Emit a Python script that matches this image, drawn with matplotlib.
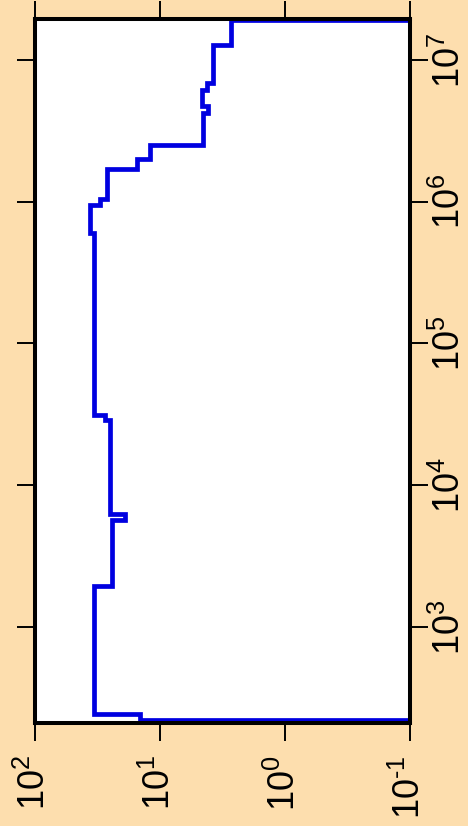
import numpy as np
import matplotlib
matplotlib.use('Agg')
import matplotlib.pyplot as plt
from matplotlib.ticker import FixedLocator, NullLocator

# step curve: frequency edges (vertical axis) and value in each band (horizontal axis)
freq_edges = [150, 221, 245, 1950, 5700, 6300, 29000, 31500, 600000, 950000,
              1.05e6, 1.7e6, 2.0e6, 2.5e6, 4.2e6, 4.7e6, 6.1e6, 6.9e6, 1.27e7, 1.91e7, 3e7]
values = [0.01, 14.5, 33.5, 24.0, 19.1, 25.0, 27.5, 33.5, 36.0, 30.0,
          26.5, 15.3, 12.0, 4.5, 4.13, 4.6, 4.2, 3.8, 2.7, 0.01]

x_ticks = [100, 10, 1, 0.1]
x_labels = ['$10^{2}$', '$10^{1}$', '$10^{0}$', '$10^{\u20101}$']
y_ticks = [1e3, 1e4, 1e5, 1e6, 1e7]
y_labels = ['$10^{3}$', '$10^{4}$', '$10^{5}$', '$10^{6}$', '$10^{7}$']

plt.rcParams['font.family'] = ['Liberation Sans', 'DejaVu Sans']
plt.rcParams['mathtext.fontset'] = 'custom'
plt.rcParams['mathtext.rm'] = 'Liberation Sans'
plt.rcParams['mathtext.it'] = 'Liberation Sans'

bg = '#fddeae'
fig = plt.figure(figsize=(4.68, 8.26), dpi=100, facecolor=bg)
ax = fig.add_axes([35/468, 103/826, 375/468, 704/826])
ax.set_facecolor('white')

ax.stairs(values, freq_edges, orientation='horizontal', baseline=None,
          color='#0000e0', linewidth=3.4, zorder=3)

ax.set_xscale('log')
ax.set_yscale('log')
ax.set_xlim(100, 0.1)
ax.set_ylim(210, 1.946e7)

ax.xaxis.set_major_locator(FixedLocator(x_ticks))
ax.xaxis.set_minor_locator(NullLocator())
ax.yaxis.set_major_locator(FixedLocator(y_ticks))
ax.yaxis.set_minor_locator(NullLocator())
ax.set_xticklabels(x_labels)
ax.set_yticklabels(y_labels)

ax.tick_params(axis='both', which='major', direction='out', length=13, width=1.4,
               top=True, bottom=True, left=True, right=True,
               labelleft=False, labelright=True, labeltop=False, labelbottom=True,
               labelsize=26)
ax.tick_params(axis='x', pad=10)
ax.tick_params(axis='y', pad=3)
for lab in ax.get_xticklabels():
    lab.set_rotation(90)
    lab.set_va('top')
    lab.set_ha('center')
for lab in ax.get_yticklabels():
    lab.set_rotation(90)
    lab.set_va('center')
    lab.set_ha('left')

for s in ax.spines.values():
    s.set_linewidth(2.9)
    s.set_zorder(4)

fig.savefig('out.png', dpi=100, facecolor=bg)
